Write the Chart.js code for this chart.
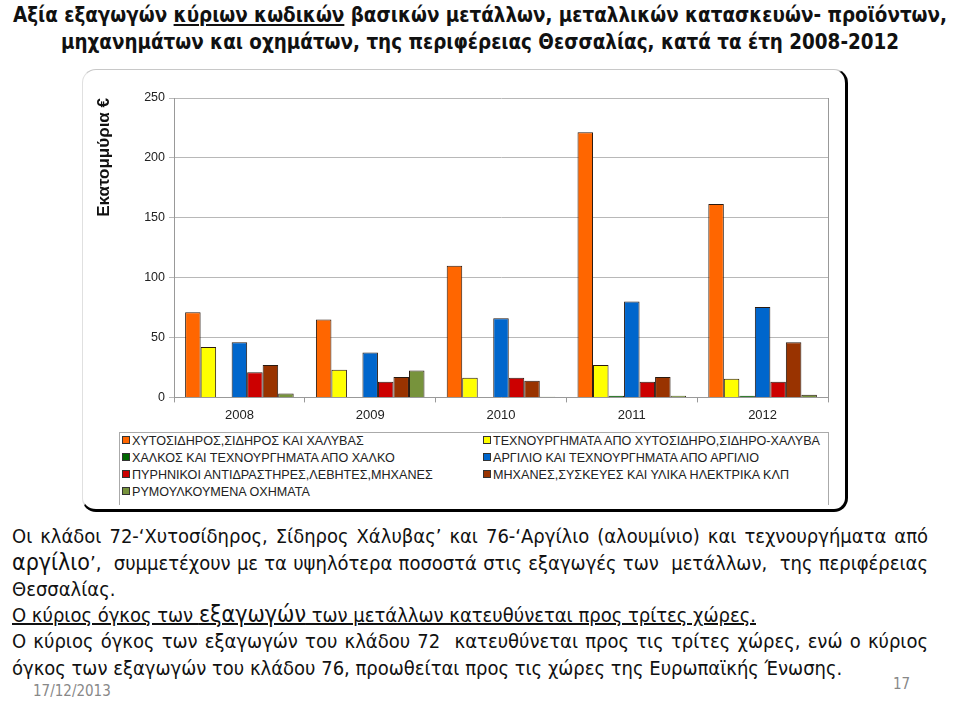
<!DOCTYPE html>
<html>
<head>
<meta charset="utf-8">
<script src="https://cdn.jsdelivr.net/npm/chart.js@4.4.0/dist/chart.umd.min.js"></script>
<style>
  body { margin: 0; width: 960px; height: 703px; background: #fff; position: relative; overflow: hidden; }
  .title { position: absolute; left: 0; width: 960px; text-align: center; font-family: "Liberation Sans Narrow", "DejaVu Sans Condensed", sans-serif; font-weight: bold; font-size: 20.4px; color: #111; white-space: nowrap; }
  .box { position: absolute; left: 82px; top: 69px; width: 762px; height: 439px; border-top: 1px solid #c8c8c8; border-left: 1px solid #e0e0e0; border-right: 3px solid #000; border-bottom: 3px solid #000; border-radius: 14px; }
  #wrap { position: absolute; left: 92px; top: 85px; width: 745px; height: 343px; }
  #legend { position: absolute; left: 119px; top: 432px; width: 708px; height: 72px; border-top: 1px solid #aaa; border-left: 1px solid #aaa; border-right: 1px solid #aaa; font-family: "Liberation Sans", Arial, sans-serif; font-size: 12.6px; color: #222; }
  .item { position: absolute; white-space: nowrap; line-height: 15px; }
  .item span.sw { display: inline-block; width: 6px; height: 6px; border: 1px solid #333; margin-right: 2px; vertical-align: 1px; }
  .txt { position: absolute; left: 12px; width: 916px; font-family: "Liberation Sans Narrow", "DejaVu Sans Condensed", sans-serif; font-size: 20px; color: #111; white-space: nowrap; }
  .just { text-align: justify; text-align-last: justify; white-space: normal; }
  .big { font-size: 23px; }
</style>
</head>
<body>
<div class="title" style="top: 3px;">Αξία εξαγωγών <u>κύριων κωδικών</u> βασικών μετάλλων, μεταλλικών κατασκευών- προϊόντων,</div>
<div class="title" style="top: 30px;">μηχανημάτων και οχημάτων, της περιφέρειας Θεσσαλίας, κατά τα έτη 2008-2012</div>

<div class="box"></div>
<div id="wrap"><canvas id="myChart"></canvas></div>
<div id="legend"></div>

<div class="txt just" style="top: 524px;">Οι κλάδοι 72-‘Χυτοσίδηρος, Σίδηρος Χάλυβας’ και 76-‘Αργίλιο (αλουμίνιο) και τεχνουργήματα από</div>
<div class="txt just" style="top: 549px;"><span class="big">αργίλιο</span>’, &nbsp;συμμετέχουν με τα υψηλότερα ποσοστά στις εξαγωγές των &nbsp;μετάλλων, &nbsp;της περιφέρειας</div>
<div class="txt" style="top: 577px;">Θεσσαλίας.</div>
<div class="txt" style="top: 601px;"><u>Ο κύριος όγκος των <span class="big">εξαγωγών</span> των μετάλλων κατευθύνεται προς τρίτες χώρες.</u></div>
<div class="txt just" style="top: 629px;">Ο κύριος όγκος των εξαγωγών του κλάδου 72 &nbsp;κατευθύνεται προς τις τρίτες χώρες, ενώ ο κύριος</div>
<div class="txt" style="top: 656px;">όγκος των εξαγωγών του κλάδου 76, προωθείται προς τις χώρες της Ευρωπαϊκής Ένωσης.</div>
<div class="txt" style="top: 682px; left: 33px; font-size: 15px; color: #888;">17/12/2013</div>
<div class="txt" style="top: 675px; left: 893px; width: 30px; font-size: 15px; color: #888;">17</div>

<script>
// years on the x axis
const years = ['2008', '2009', '2010', '2011', '2012'];

// series names (legend)
const seriesNames = [
    'ΧΥΤΟΣΙΔΗΡΟΣ,ΣΙΔΗΡΟΣ ΚΑΙ ΧΑΛΥΒΑΣ',
    'ΤΕΧΝΟΥΡΓΗΜΑΤΑ ΑΠΟ ΧΥΤΟΣΙΔΗΡΟ,ΣΙΔΗΡΟ-ΧΑΛΥΒΑ',
    'ΧΑΛΚΟΣ ΚΑΙ ΤΕΧΝΟΥΡΓΗΜΑΤΑ ΑΠΟ ΧΑΛΚΟ',
    'ΑΡΓΙΛΙΟ ΚΑΙ ΤΕΧΝΟΥΡΓΗΜΑΤΑ ΑΠΟ ΑΡΓΙΛΙΟ',
    'ΠΥΡΗΝΙΚΟΙ ΑΝΤΙΔΡΑΣΤΗΡΕΣ,ΛΕΒΗΤΕΣ,ΜΗΧΑΝΕΣ',
    'ΜΗΧΑΝΕΣ,ΣΥΣΚΕΥΕΣ ΚΑΙ ΥΛΙΚΑ ΗΛΕΚΤΡΙΚΑ ΚΛΠ',
    'ΡΥΜΟΥΛΚΟΥΜΕΝΑ ΟΧΗΜΑΤΑ'
];

// values in million euro
const ironSteel = [71, 65, 110, 221.5, 161.5];
const ironSteelArticles = [42, 23, 16.5, 27, 15.5];
const copper = [0.3, 0.3, 0.3, 1.4, 1.4];
const aluminium = [46, 37.5, 66, 80, 75.5];
const reactors = [21, 13, 16.5, 13, 13];
const electrical = [27, 17, 14, 17, 46];
const trailers = [3.3, 22.5, 0.6, 1.4, 2.2];

const yTicks = [0, 50, 100, 150, 200, 250];

const colors = ['#FF6600', '#FFFF00', '#006600', '#0066CC', '#CC0000', '#993300', '#77933C'];
const seriesValues = [ironSteel, ironSteelArticles, copper, aluminium, reactors, electrical, trailers];

const datasets = seriesValues.map((vals, i) => ({
    label: seriesNames[i],
    data: vals,
    backgroundColor: colors[i],
    borderColor: '#2a1a10',
    borderWidth: 1,
    categoryPercentage: 0.83,
    barPercentage: 1.0
}));

// html legend, two columns
const legend = document.getElementById('legend');
seriesNames.forEach((name, i) => {
    const div = document.createElement('div');
    div.className = 'item';
    div.style.left = (i % 2 === 0 ? 2 : 363) + 'px';
    div.style.top = (1 + Math.floor(i / 2) * 17) + 'px';
    div.innerHTML = '<span class="sw" style="background:' + colors[i] + '"></span>' + name;
    legend.appendChild(div);
});

const tickFont = { family: '"Liberation Sans", Arial, sans-serif', size: 12.5 };

const ctx = document.getElementById('myChart').getContext('2d');
const chart = new Chart(ctx, {
    type: 'bar',
    data: { labels: years, datasets: datasets },
    options: {
        responsive: true,
        maintainAspectRatio: false,
        animation: false,
        layout: { padding: { top: 13, right: 9, left: 0, bottom: 0 } },
        plugins: {
            legend: { display: false },
            tooltip: { enabled: false }
        },
        scales: {
            x: {
                grid: { display: true, drawOnChartArea: false, offset: true, tickLength: 5, color: '#999' },
                border: { color: '#999' },
                ticks: { color: '#222', font: { family: '"Liberation Sans", Arial, sans-serif', size: 13 }, padding: 5 }
            },
            y: {
                min: 0,
                max: 250,
                afterBuildTicks: (scale) => { scale.ticks = yTicks.map(v => ({ value: v })); },
                afterFit: (scale) => { scale.width = 82; },
                grid: { color: '#b8b8b8', tickLength: 5, lineWidth: 1 },
                border: { color: '#999' },
                ticks: { color: '#222', font: tickFont, padding: 4 },
                title: {
                    display: true,
                    text: 'Εκατομμύρια €',
                    align: 'end',
                    color: '#111',
                    font: { family: '"Liberation Sans", Arial, sans-serif', size: 17, weight: 'bold' },
                    padding: { top: 2, bottom: 0 }
                }
            },
            y2: {
                position: 'right',
                min: 0,
                max: 250,
                afterFit: (scale) => { scale.width = 0; },
                grid: { drawOnChartArea: false, drawTicks: false },
                border: { color: '#999' },
                ticks: { display: false }
            }
        }
    }
});
</script>
</body>
</html>
